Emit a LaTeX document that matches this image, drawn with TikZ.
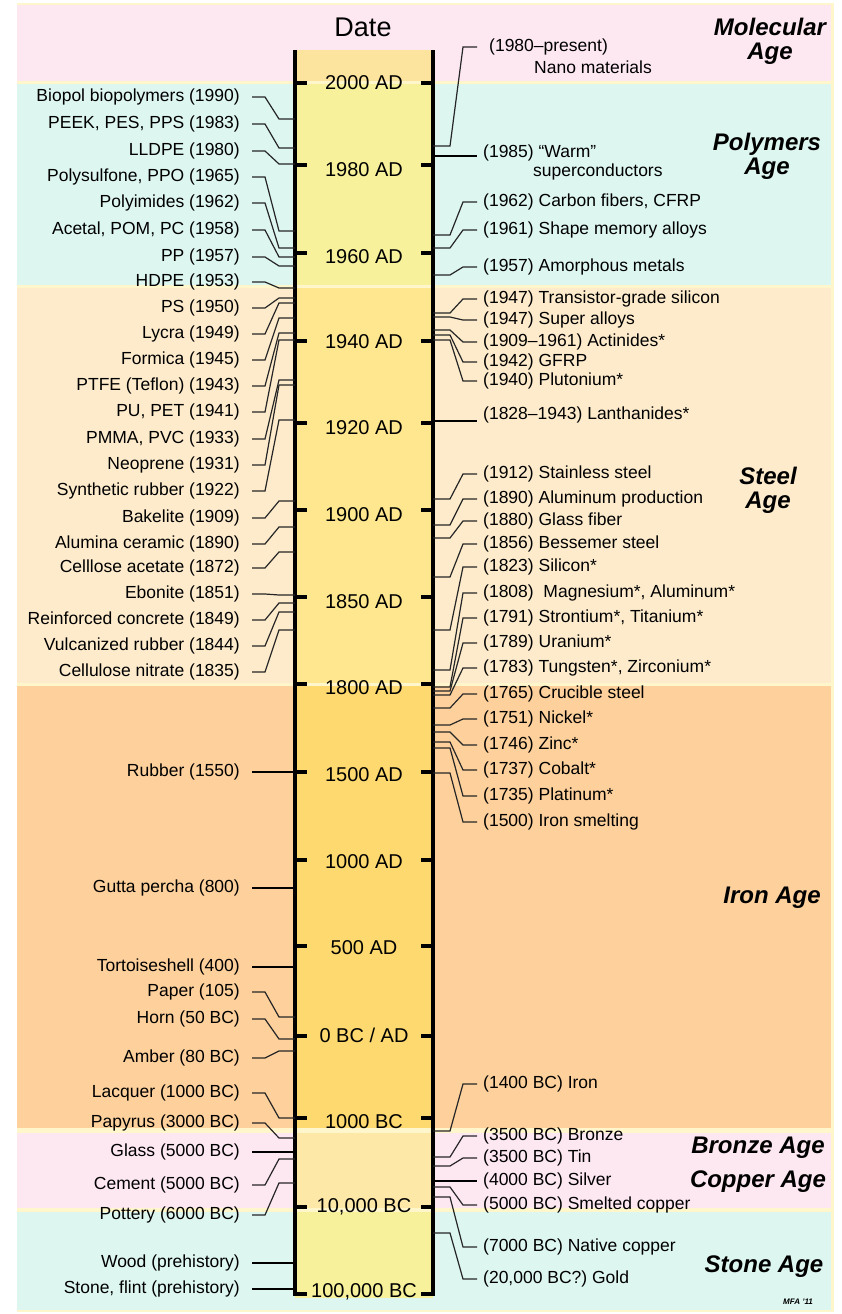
\documentclass[tikz,border=0pt]{standalone}
\usepackage{fontspec}
\setmainfont{Liberation Sans}
\usetikzlibrary{positioning}
\definecolor{sepyellow}{RGB}{255,246,204}
\definecolor{agepink}{RGB}{253,232,242}
\definecolor{agemint}{RGB}{221,246,240}
\definecolor{agepeach}{RGB}{253,235,204}
\definecolor{ageorange}{RGB}{253,208,156}
\definecolor{colmol}{RGB}{253,228,158}
\definecolor{colpoly}{RGB}{247,241,156}
\definecolor{colsteel}{RGB}{254,231,142}
\definecolor{coliron}{RGB}{253,217,112}
\definecolor{colbronze}{RGB}{253,232,168}
\definecolor{colstone}{RGB}{247,241,156}
\tikzset{
  lbl/.style={inner sep=0pt, font=\fontsize{17.5}{20}\selectfont},
  datelbl/.style={inner sep=0pt, font=\fontsize{20}{24}\selectfont},
  agelbl/.style={inner sep=0pt, align=center, font=\fontsize{24}{24}\selectfont\bfseries\itshape},
  conn/.style={line width=1.2pt, draw=black!85},
  thickconn/.style={line width=2.8pt},
  axisline/.style={line width=4pt},
  tickmark/.style={line width=4pt},
}
\begin{document}
\begin{tikzpicture}[x=1pt,y=-1pt]
\useasboundingbox (0,0) rectangle (842,1314);
\fill[sepyellow] (17,3) rectangle (834,1312);
\foreach \ya/\yb/\bc/\ca/\cb/\cc in {5/81/agepink/50/81/colmol, 84/285/agemint/84/285/colpoly,
  288/683/agepeach/288/683/colsteel, 686/1128/ageorange/686/1128/coliron,
  1133/1208/agepink/1133/1208/colbronze, 1212/1310/agemint/1212/1298/colstone}{
  \fill[\bc] (17,\ya) rectangle (831,\yb);
  \fill[\cc] (295,\ca) rectangle (433,\cb);
}
\node[inner sep=0pt, font=\fontsize{27}{30}\selectfont] (date) at (363,27) {Date};
\draw[axisline] (295,50) -- (295,1296);
\draw[axisline] (433,50) -- (433,1296);
\foreach \n/\yt/\yl/\d in {1/83/83/2000 AD, 2/165/170/1980 AD, 3/253/257/1960 AD, 4/341/342/1940 AD,
  5/423/428/1920 AD, 6/510/515/1900 AD, 7/597/602/1850 AD, 8/684/688/1800 AD, 9/772/775/1500 AD,
  10/860/862/1000 AD, 11/946/948/500 AD, 12/1036/1035/{0 BC / AD}, 13/1118/1122/1000 BC,
  14/1207/1207/{10,000 BC}, 15/1294/1292/{100,000 BC}}{
  \draw[tickmark] (295,\yt) -- (307,\yt);
  \draw[tickmark] (421,\yt) -- (433,\yt);
  \node[datelbl] (d\n) at (364,\yl) {\d};
}
\node[agelbl] (molecular) at (770,41) {Molecular\\Age};
\node[agelbl] (polymers) at (767,156) {Polymers\\Age};
\node[agelbl] (steel) at (768,490) {Steel\\Age};
\node[agelbl] (iron) at (772,898) {Iron Age};
\node[agelbl] (bronze) at (758,1148) {Bronze Age};
\node[agelbl] (copper) at (758,1182) {Copper Age};
\node[agelbl] (stone) at (764,1267) {Stone Age};
\node[inner sep=0pt, font=\fontsize{8}{8}\selectfont\bfseries\itshape] (mfa) at (798,1302) {MFA ’11};
\foreach \n/\ty/\ay/\txt in {1/97/119/Biopol biopolymers (1990), 2/124/148/{PEEK, PES, PPS (1983)},
  3/151/164/LLDPE (1980), 4/177/231/{Polysulfone, PPO (1965)}, 5/203/248/Polyimides (1962),
  6/230/257/{Acetal, POM, PC (1958)}, 7/257/266/PP (1957), 8/282/288/HDPE (1953),
  9/308/298/PS (1950), 10/334/303/Lycra (1949), 11/360/318/Formica (1945),
  12/386/333/PTFE (Teflon) (1943), 13/412/340/{PU, PET (1941)}, 14/439/380/{PMMA, PVC (1933)},
  15/465/385/Neoprene (1931), 16/491/420/Synthetic rubber (1922), 17/518/501/Bakelite (1909),
  18/544/527/Alumina ceramic (1890), 19/568/552/Celllose acetate (1872), 20/594/595/Ebonite (1851),
  21/620/603/Reinforced concrete (1849), 22/646/612/Vulcanized rubber (1844),
  23/672/630/Cellulose nitrate (1835), 24/992/1017/Paper (105), 25/1019/1039/Horn (50 BC),
  26/1058/1051/Amber (80 BC), 27/1093/1118/Lacquer (1000 BC), 28/1123/1138/Papyrus (3000 BC),
  29/1185/1159/Cement (5000 BC), 30/1215/1183/Pottery (6000 BC)}{
  \coordinate (la\n) at (295,\ay);
  \node[lbl,left] (l\n) at (240,\ty) {\txt};
  \draw[conn] ([xshift=12]l\n.east) -- ++(13,0) -- ([xshift=-16]la\n) -- (la\n);
}
\foreach \n/\ty/\txt in {31/772/Rubber (1550), 32/888/Gutta percha (800), 33/967/Tortoiseshell (400),
  34/1152/Glass (5000 BC), 35/1263/Wood (prehistory), 36/1289/{Stone, flint (prehistory)}}{
  \coordinate (la\n) at (295,\ty);
  \node[lbl,left] (l\n) at (240,\ty) {\txt};
  \draw[thickconn, shorten <=12pt] (l\n.east) -- (la\n);
}
\foreach \n/\ty/\ay/\txt in {1/202/235/{(1962) Carbon fibers, CFRP}, 2/230/248/(1961) Shape memory alloys,
  3/267/275/(1957) Amorphous metals, 4/299/313/(1947) Transistor-grade silicon,
  5/320/317/(1947) Super alloys, 6/342/330/(1909–1961) Actinides*, 7/362/335/(1942) GFRP,
  8/381/340/(1940) Plutonium*, 9/474/499/(1912) Stainless steel, 10/499/525/(1890) Aluminum production,
  11/521/538/(1880) Glass fiber, 12/544/577/(1856) Bessemer steel, 13/567/630/(1823) Silicon*,
  14/593/670/{(1808)~ Magnesium*, Aluminum*}, 15/618/687/{(1791) Strontium*, Titanium*},
  16/643/691/(1789) Uranium*, 17/668/695/{(1783) Tungsten*, Zirconium*}, 18/694/708/(1765) Crucible steel,
  19/719/725/(1751) Nickel*, 20/745/732/(1746) Zinc*, 21/770/742/(1737) Cobalt*,
  22/796/748/(1735) Platinum*, 23/822/773/(1500) Iron smelting, 24/1084/1131/(1400 BC) Iron,
  25/1136/1157/(3500 BC) Bronze, 26/1158/1166/(3500 BC) Tin, 27/1205/1187/(5000 BC) Smelted copper,
  28/1247/1197/(7000 BC) Native copper, 29/1279/1233/{(20,000 BC?) Gold}}{
  \coordinate (ra\n) at (433,\ay);
  \node[lbl,right] (r\n) at (483,\ty) {\txt};
  \draw[conn] (ra\n) -- ++(17,0) -- ([xshift=-20]r\n.west) -- ([xshift=-6]r\n.west);
}
\node[lbl,right] (nano) at (489,47) {(1980–present)};
\node[lbl,right] (nano2) at ([xshift=45,yshift=-20]nano.west) {Nano materials};
\coordinate (ranano) at (433,146);
\draw[conn] (ranano) -- ++(17,0) -- ([xshift=-26]nano.west) -- ([xshift=-12]nano.west);
\node[lbl,right] (warm) at (483,153) {(1985) “Warm”};
\node[lbl,right] (warm2) at ([xshift=50,yshift=-19]warm.west) {superconductors};
\coordinate (rawarm) at (433,156);
\draw[thickconn, shorten >=6pt] (rawarm) -- (rawarm -| warm.west);
\node[lbl,right] (lanth) at (483,415) {(1828–1943) Lanthanides*};
\coordinate (ralanth) at (433,421);
\draw[thickconn, shorten >=6pt] (ralanth) -- (ralanth -| lanth.west);
\node[lbl,right] (silver) at (483,1181) {(4000 BC) Silver};
\coordinate (rasilver) at (433,1181);
\draw[thickconn, shorten >=6pt] (rasilver) -- (rasilver -| silver.west);
\end{tikzpicture}
\end{document}
